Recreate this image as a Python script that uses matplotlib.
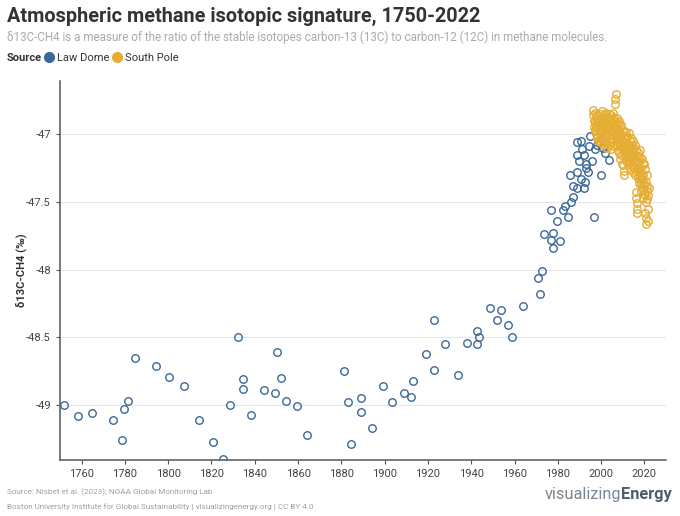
import matplotlib
matplotlib.use("Agg")
import matplotlib.pyplot as plt
from matplotlib.lines import Line2D

# ---------------- data ----------------
law_dome_year = [1752, 1758.5, 1764.6, 1774.5, 1778.6, 1779.5, 1781.6, 1784.5, 1794.5, 1800.5,
                 1807.4, 1814.4, 1820.5, 1825.4, 1828.4, 1832.4, 1834.4, 1834.4, 1838.3, 1844.2,
                 1849.3, 1850.4, 1852.2, 1854.4, 1859.3, 1864.2, 1881.2, 1883.2, 1884.3, 1889.2,
                 1889.2, 1894.1, 1899.2, 1903.2, 1909.1, 1912.1, 1913.0, 1919.0, 1923.0, 1923.0,
                 1928.0, 1934.0, 1938.0, 1942.9, 1943.8, 1942.9, 1948.9, 1951.8, 1953.9, 1956.9,
                 1958.9, 1963.8, 1970.8, 1971.9, 1972.8, 1973.7, 1976.8, 1977.9, 1977.7, 1980.8,
                 1976.8, 1979.7, 1982.6, 1983.5, 1984.8, 1985.9, 1986.9, 1986.9, 1988.8, 1992.0,
                 1985.7, 1990.8, 1992.6, 1999.9, 1988.8, 1993.9, 1993.1, 1989.6, 1992.9, 1995.9,
                 1988.8, 1992.3, 1991.3, 1988.8, 1990.8, 1995.0, 1994.6, 1997.1, 1998.0, 1999.3,
                 2000.8, 2001.7, 2003.6, 1996.6]
law_dome_d13c = [-49.00, -49.08, -49.06, -49.11, -49.26, -49.03, -48.97, -48.65, -48.71, -48.79,
                 -48.86, -49.11, -49.27, -49.40, -49.00, -48.50, -48.81, -48.88, -49.07, -48.89,
                 -48.91, -48.61, -48.80, -48.97, -49.01, -49.22, -48.75, -48.98, -49.29, -48.95,
                 -49.05, -49.17, -48.86, -48.98, -48.91, -48.94, -48.82, -48.62, -48.74, -48.37,
                 -48.55, -48.78, -48.54, -48.45, -48.50, -48.55, -48.28, -48.37, -48.30, -48.41,
                 -48.50, -48.27, -48.06, -48.18, -48.01, -47.74, -47.78, -47.73, -47.84, -47.79,
                 -47.56, -47.64, -47.56, -47.53, -47.61, -47.50, -47.46, -47.38, -47.40, -47.40,
                 -47.30, -47.33, -47.35, -47.30, -47.28, -47.28, -47.25, -47.20, -47.22, -47.20,
                 -47.15, -47.15, -47.11, -47.06, -47.05, -47.01, -47.09, -47.11, -47.08, -47.06,
                 -47.10, -47.14, -47.19, -47.61]

# South Pole: samples per calendar year (spread through the year)
south_pole_years = list(range(1996, 2022))
south_pole_d13c = [
    [-46.82, -46.86, -46.90, -46.95],
    [-46.90, -46.84, -46.97, -46.93, -47.00, -46.88, -46.95, -47.03],
    [-46.92, -46.86, -47.02, -46.95, -46.89, -47.05, -46.98, -46.93],
    [-46.97, -46.90, -46.85, -47.03, -46.94, -47.06, -46.99, -46.92],
    [-46.88, -46.96, -47.04, -46.83, -46.99, -46.93, -47.08, -46.90],
    [-46.95, -46.86, -47.02, -46.91, -46.97, -47.07, -46.89, -46.94],
    [-46.90, -46.99, -46.84, -47.05, -46.93, -47.10, -46.96, -46.88],
    [-46.93, -46.87, -47.01, -46.96, -47.08, -46.91, -46.85, -47.03],
    [-46.98, -46.89, -46.94, -47.06, -46.86, -47.11, -47.00, -46.92],
    [-46.91, -46.97, -46.84, -47.04, -46.95, -47.09, -46.88, -47.00],
    [-46.95, -46.90, -47.02, -46.78, -46.74, -46.70, -46.97, -47.08],
    [-46.93, -47.00, -46.88, -47.06, -46.96, -47.12, -46.92, -47.03],
    [-46.98, -46.90, -47.05, -47.14, -46.94, -47.02, -47.18, -47.08],
    [-47.00, -47.08, -46.93, -47.15, -47.22, -47.04, -47.11, -46.97],
    [-47.05, -47.12, -47.23, -47.27, -47.30, -46.98, -47.09, -47.16],
    [-47.06, -47.13, -46.98, -47.20, -47.10, -47.03, -47.17, -47.08],
    [-47.10, -47.02, -47.16, -47.22, -47.07, -47.13, -46.99, -47.19],
    [-47.12, -47.05, -47.20, -47.09, -47.26, -47.15, -47.03, -47.18],
    [-47.15, -47.08, -47.22, -47.12, -47.28, -47.05, -47.19, -47.24],
    [-47.18, -47.10, -47.25, -47.14, -47.30, -47.21, -47.08, -47.27],
    [-47.20, -47.12, -47.43, -47.47, -47.51, -47.55, -47.58, -47.26, -47.16, -47.32],
    [-47.24, -47.13, -47.30, -47.20, -47.36, -47.27, -47.12, -47.33],
    [-47.28, -47.17, -47.36, -47.25, -47.42, -47.31, -47.18, -47.39],
    [-47.33, -47.21, -47.41, -47.30, -47.47, -47.36, -47.22, -47.44],
    [-47.38, -47.26, -47.45, -47.58, -47.62, -47.66, -47.35, -47.50],
    [-47.42, -47.30, -47.48, -47.38, -47.55, -47.45, -47.64, -47.40],
]

x_ticks = [1760, 1780, 1800, 1820, 1840, 1860, 1880, 1900, 1920, 1940, 1960, 1980, 2000, 2020]
y_ticks = [-49, -48.5, -48, -47.5, -47]
y_tick_labels = ["-49", "-48.5", "-48", "-47.5", "-47"]

BLUE = "#3a6898"
GOLD = "#e6ad35"

sp_x, sp_y = [], []
for yr, vals in zip(south_pole_years, south_pole_d13c):
    n = len(vals)
    for k, v in enumerate(vals):
        sp_x.append(yr + (k + 0.5) / n)
        sp_y.append(v)

FONT = ["Roboto", "DejaVu Sans"]
plt.rcParams["font.family"] = FONT

fig = plt.figure(figsize=(6.8, 5.16), dpi=100)
ax = fig.add_axes([60 / 680, 1 - 460 / 516, 606 / 680, 379 / 516])

ax.plot(law_dome_year, law_dome_d13c, linestyle="none", marker="o", markersize=5.4,
        markerfacecolor="none", markeredgecolor=BLUE, markeredgewidth=1.0, zorder=3)
ax.plot(sp_x, sp_y, linestyle="none", marker="o", markersize=5.4,
        markerfacecolor="none", markeredgecolor=GOLD, markeredgewidth=1.0, zorder=4)

ax.set_xlim(1750, 2030)
ax.set_ylim(-49.405, -46.607)
ax.set_xticks(x_ticks)
ax.set_yticks(y_ticks)
ax.set_yticklabels(y_tick_labels)
ax.grid(axis="y", color="#e8e8e8", linewidth=0.9)
ax.set_axisbelow(True)
for s in ["top", "right"]:
    ax.spines[s].set_visible(False)
for s in ["left", "bottom"]:
    ax.spines[s].set_color("#555555")
    ax.spines[s].set_linewidth(1.1)
ax.tick_params(axis="both", colors="#555555", labelsize=8, length=3, width=0.8)
ax.tick_params(axis="x", labelcolor="#444444")
ax.tick_params(axis="y", labelcolor="#444444")
ax.set_ylabel("δ13C-CH4 (‰)", fontsize=8, fontweight="bold", color="#333333")
ax.yaxis.set_label_coords(-33 / 606, 0.5)

fig.text(7 / 680, 1 - 16 / 516, "Atmospheric methane isotopic signature, 1750-2022",
         fontsize=14.3, fontweight="bold", color="#333333", va="center", ha="left")
fig.text(7 / 680, 1 - 37 / 516,
         "δ13C-CH4 is a measure of the ratio of the stable isotopes carbon-13 (13C) to carbon-12 (12C) in methane molecules.",
         fontsize=8.4, color="#aaaaaa", va="center", ha="left")

fig.text(7 / 680, 1 - 58 / 516, "Source", fontsize=8, fontweight="bold", color="#333333",
         va="center", ha="left")
handles = [Line2D([], [], linestyle="none", marker="o", markersize=7, markerfacecolor=BLUE,
                  markeredgecolor=BLUE),
           Line2D([], [], linestyle="none", marker="o", markersize=7, markerfacecolor=GOLD,
                  markeredgecolor=GOLD)]
fig.legend(handles, ["Law Dome", "South Pole"], ncol=2, loc="center left",
           bbox_to_anchor=(45 / 680, 1 - 58 / 516), frameon=False, fontsize=8,
           handlelength=0.8, handletextpad=0.25, columnspacing=0.35, borderpad=0,
           borderaxespad=0, labelcolor="#333333")

fig.text(7 / 680, 1 - 492 / 516, "Source: Nisbet et al. (2023); NOAA Global Monitoring Lab",
         fontsize=5.9, color="#a0a0a0", va="center", ha="left")
fig.text(7 / 680, 1 - 507 / 516,
         "Boston University Institute for Global Sustainability | visualizingenergy.org | CC BY 4.0",
         fontsize=5.9, color="#a0a0a0", va="center", ha="left")

t_energy = fig.text(672 / 680, 1 - 495 / 516, "Energy", fontsize=11.8, fontweight="bold",
                    color="#4d5d6e", va="center", ha="right")
fig.canvas.draw()
bb = t_energy.get_window_extent(fig.canvas.get_renderer())
fig.text(bb.x0 / fig.bbox.width, 1 - 495 / 516, "visualizing", fontsize=11.8,
         color="#7a8590", va="center", ha="right")

fig.savefig("out.png", dpi=100)
